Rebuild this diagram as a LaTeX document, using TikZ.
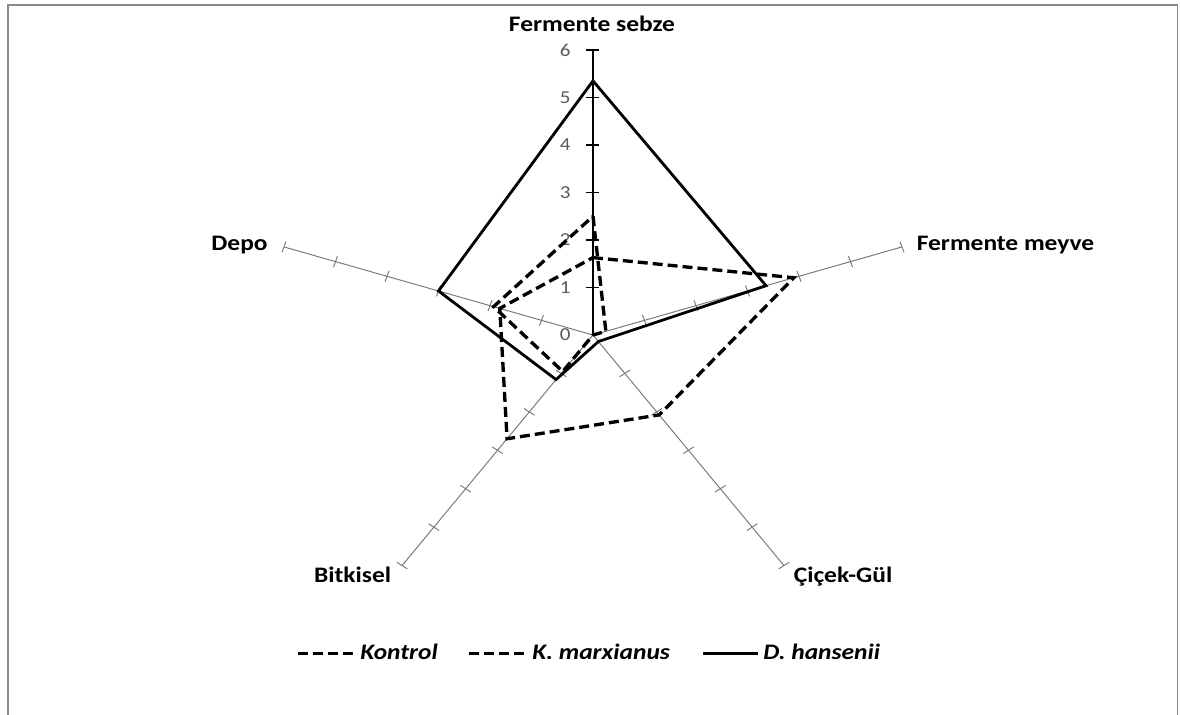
\documentclass[tikz,border=0pt]{standalone}
\usepackage{fontspec}
\setmainfont{Carlito}[FakeStretch=1.15]
\usepackage{tikz}
\usetikzlibrary{calc}
\definecolor{framegray}{RGB}{138,138,138}
\definecolor{axisgray}{RGB}{120,120,120}
\definecolor{numgray}{RGB}{89,89,89}

\begin{document}
\begin{tikzpicture}[
        radaxis/.style={axisgray,line width=0.55pt},
        valaxis/.style={black,line width=0.6pt},
        catlabel/.style={font=\fontsize{12.6}{15}\selectfont\bfseries,inner sep=0pt},
        numlabel/.style={font=\fontsize{10.4}{12}\selectfont,text=numgray,inner sep=0pt,anchor=east},
        legtext/.style={font=\fontsize{12.6}{15}\selectfont\bfseries\itshape,inner sep=0pt,anchor=base west},
        kontrol/.style={black,line width=1.9pt,dash pattern=on 0.2cm off 0.1cm},
        marxianus/.style={black,line width=1.9pt,dash pattern=on 0.2cm off 0.1cm},
        hansenii/.style={black,line width=1.6pt}]
        \useasboundingbox (-11.86,-7.58) rectangle (11.74,6.70);
        \draw[framegray,line width=1.1pt] (-11.70,-7.8) -- (-11.70,6.60) -- (11.69,6.60) -- (11.69,-7.8);

        \begin{scope}[xscale=1.083,yscale=0.95]
            \foreach \a in {18,-54,-126,162}{
                \draw[radaxis] (0,0) -- (\a:6);
                \foreach \v in {1,...,6}
                    \draw[radaxis] ($(\a:\v)+(\a+90:0.12)$) -- ($(\a:\v)-(\a+90:0.12)$);
            }
            \draw[valaxis] (0,0) -- (0,6);
            \foreach \v in {1,...,6}
                \draw[valaxis] (-0.12,\v) -- (0.12,\v);
            \foreach \v in {0,...,6}
                \node[numlabel] (num\v) at (-0.41,\v) {\v};

            \draw[kontrol] plot coordinates {(90:2.5) (18:0.25) (-54:0) (-126:0.95) (162:1.93)} -- cycle;
            \draw[marxianus] plot coordinates {(90:1.63) (18:3.9) (-54:2.08) (-126:2.7) (162:1.81)} -- cycle;
            \draw[hansenii] plot coordinates {(90:5.35) (18:3.36) (-54:0.17) (-126:1.16) (162:3.0)} -- cycle;
        \end{scope}

        \node[catlabel,anchor=base] (sebze) at (-0.02,6.07) {Fermente sebze};
        \node[catlabel,anchor=base west] (meyve) at (6.47,1.69) {Fermente meyve};
        \node[catlabel,anchor=base east] (depo) at (-6.50,1.69) {Depo};
        \node[catlabel,anchor=base east] (bitkisel) at (-4.03,-4.95) {Bitkisel};
        \node[catlabel,anchor=base west] (cicek) at (4.01,-4.95) {Çiçek-Gül};

        \draw[kontrol] (-5.90,-6.37) -- (-4.76,-6.37);
        \node[legtext] (lkontrol) at (-4.66,-6.49) {Kontrol};
        \draw[marxianus] (-2.48,-6.37) -- (-1.34,-6.37);
        \node[legtext] (lmarx) at (-1.22,-6.49) {K. marxianus};
        \draw[hansenii] (2.20,-6.37) -- (3.31,-6.37);
        \node[legtext] (lhans) at (3.40,-6.49) {D. hansenii};
\end{tikzpicture}
\end{document}
